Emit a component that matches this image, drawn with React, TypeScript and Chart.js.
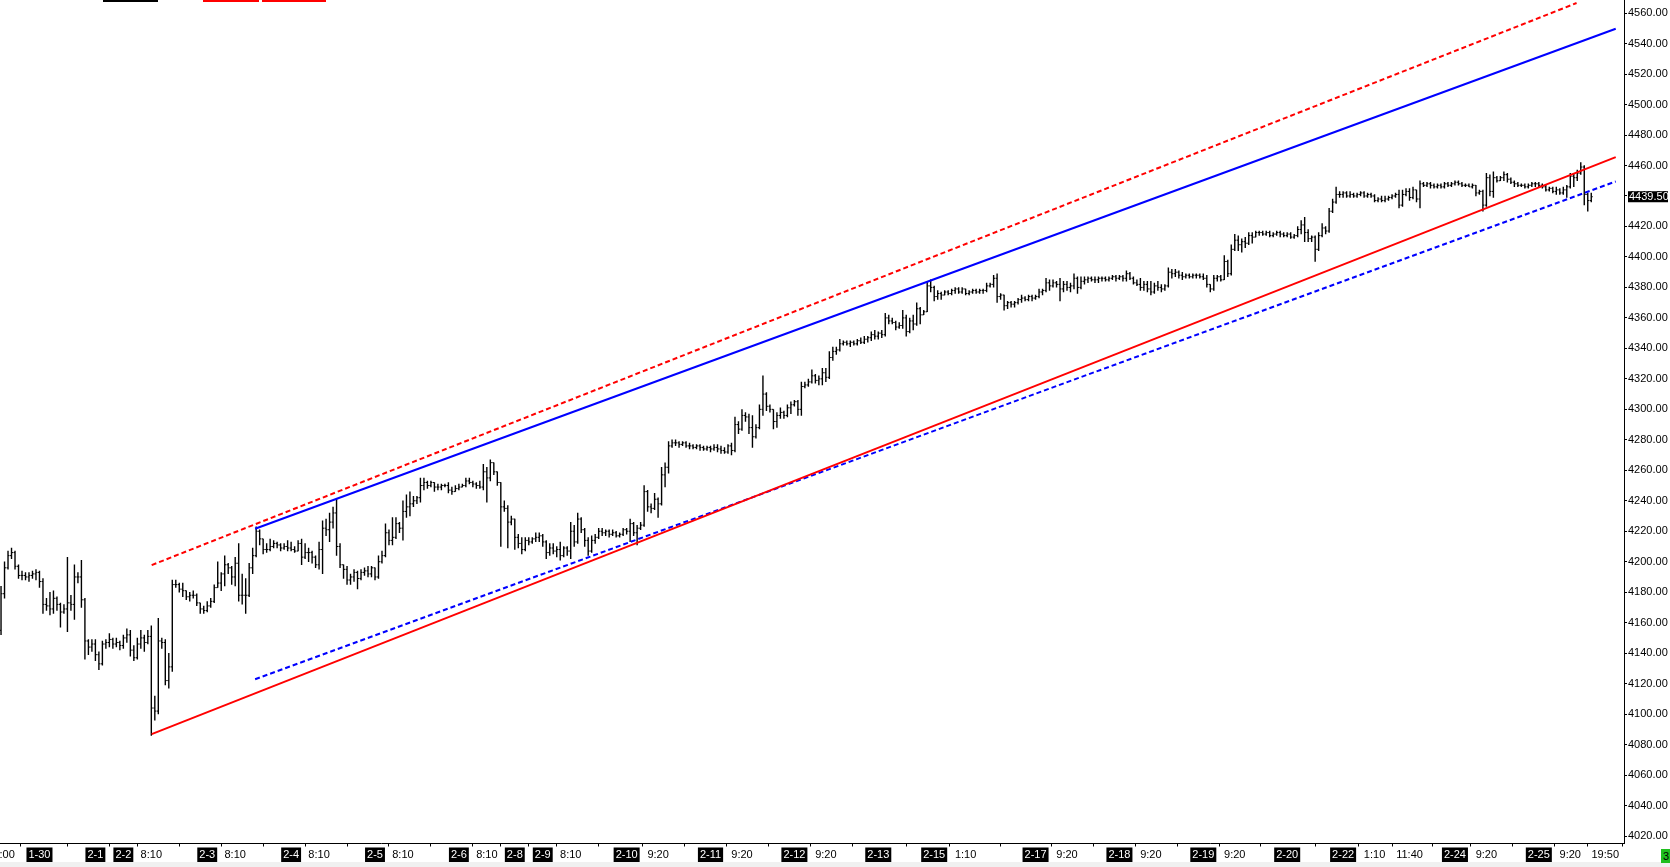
import { useEffect, useRef } from "react";
import { Chart, registerables } from "chart.js";

Chart.register(...registerables);

// hourly OHLC bars, index 0 = first visible bar
const opens = [
  4155, 4179, 4196, 4204, 4206, 4197, 4191, 4191, 4190, 4191,
  4192, 4193, 4187, 4172, 4171, 4169, 4176, 4172, 4167, 4169,
  4173, 4172, 4190, 4190, 4175, 4148, 4144, 4146, 4139, 4133,
  4146, 4147, 4149, 4146, 4147, 4145, 4150, 4152, 4142, 4137,
  4146, 4150, 4147, 4151, 4104, 4102, 4148, 4147, 4122, 4131,
  4185, 4185, 4182, 4181, 4177, 4178, 4178, 4173, 4169, 4168,
  4171, 4174, 4183, 4186, 4192, 4198, 4196, 4190, 4199, 4178,
  4178, 4178, 4196, 4204, 4220, 4215, 4208, 4208, 4210, 4212,
  4211, 4209, 4210, 4209, 4208, 4207, 4212, 4203, 4206, 4206,
  4203, 4198, 4208, 4222, 4221, 4226, 4232, 4210, 4198, 4195,
  4188, 4190, 4193, 4189, 4193, 4194, 4192, 4196, 4190, 4200,
  4204, 4219, 4214, 4216, 4225, 4222, 4233, 4236, 4238, 4240,
  4242, 4250, 4252, 4250, 4252, 4249, 4249, 4250, 4250, 4247,
  4246, 4248, 4249, 4250, 4253, 4252, 4251, 4250, 4249, 4259,
  4255, 4265, 4259, 4252, 4236, 4235, 4226, 4228, 4216, 4212,
  4208, 4214, 4213, 4215, 4216, 4217, 4213, 4206, 4209, 4207,
  4208, 4204, 4209, 4207, 4220, 4213, 4228, 4221, 4214, 4207,
  4214, 4216, 4220, 4219, 4220, 4218, 4219, 4217, 4218, 4221,
  4220, 4225, 4219, 4222, 4224, 4246, 4236, 4235, 4241, 4238,
  4257, 4262, 4276, 4278, 4278, 4277, 4278, 4276, 4276, 4275,
  4276, 4275, 4274, 4275, 4274, 4275, 4274, 4273, 4272, 4276,
  4273, 4290, 4287, 4296, 4295, 4288, 4282, 4288, 4300, 4310,
  4302, 4300, 4292, 4296, 4298, 4296, 4301, 4303, 4305, 4300,
  4315, 4316, 4318, 4322, 4319, 4320, 4324, 4321, 4334, 4338,
  4339, 4343, 4344, 4343, 4344, 4343, 4345, 4344, 4346, 4347,
  4349, 4348, 4350, 4349, 4360, 4358, 4357, 4354, 4355, 4360,
  4351, 4358, 4356, 4366, 4362, 4364, 4381, 4380, 4374, 4376,
  4375, 4377, 4376, 4378, 4379, 4377, 4379, 4376, 4377, 4378,
  4377, 4378, 4378, 4381, 4382, 4386, 4374, 4375, 4368, 4370,
  4369, 4370, 4372, 4373, 4372, 4374, 4373, 4374, 4377, 4378,
  4383, 4381, 4383, 4382, 4379, 4382, 4380, 4381, 4386, 4380,
  4384, 4385, 4386, 4385, 4385, 4386, 4386, 4385, 4386, 4387, 4386,
  4387, 4386, 4389, 4386, 4383, 4382, 4380, 4382, 4379, 4377,
  4381, 4380, 4379, 4381, 4390, 4389, 4390, 4388, 4387, 4388,
  4387, 4388, 4388, 4387, 4386, 4382, 4379, 4386, 4387, 4385,
  4397, 4389, 4405, 4411, 4408, 4410, 4409, 4414, 4413, 4416,
  4416, 4415, 4416, 4414, 4415, 4416, 4415, 4414, 4415, 4413,
  4414, 4418, 4421, 4416, 4412, 4413, 4405, 4414, 4419, 4417,
  4430, 4436, 4441, 4441, 4442, 4440, 4441, 4440, 4441, 4442,
  4440, 4441, 4440, 4437, 4438, 4437, 4438, 4439, 4440, 4441,
  4434, 4441, 4443, 4439, 4444, 4438, 4448, 4447, 4448, 4447,
  4446, 4447, 4446, 4448, 4447, 4448, 4449, 4448, 4447, 4447,
  4446, 4447, 4442, 4443, 4434, 4452, 4443, 4452, 4450, 4452,
  4454, 4451, 4449, 4448, 4447, 4447, 4446, 4447, 4448, 4448,
  4447, 4446, 4444, 4445, 4443, 4444, 4442, 4444, 4446, 4453,
  4452, 4455, 4459, 4441, 4437,
];

const highs = [
  4184, 4200, 4207, 4209, 4207, 4198, 4194, 4193, 4193, 4194,
  4195, 4194, 4189, 4176, 4180, 4181, 4177, 4173, 4172, 4203,
  4178, 4198, 4193, 4201, 4176, 4149, 4149, 4149, 4141, 4148,
  4149, 4153, 4150, 4150, 4148, 4152, 4156, 4155, 4145, 4150,
  4155, 4152, 4155, 4158, 4112, 4163, 4150, 4149, 4140, 4188,
  4188, 4186, 4186, 4181, 4180, 4181, 4179, 4173, 4171, 4174,
  4176, 4185, 4200, 4193, 4204, 4199, 4197, 4203, 4212, 4192,
  4189, 4199, 4209, 4223, 4221, 4215, 4212, 4215, 4214, 4213,
  4212, 4212, 4214, 4213, 4210, 4214, 4215, 4212, 4209, 4207,
  4204, 4213, 4227, 4228, 4232, 4236, 4241, 4212, 4198, 4197,
  4192, 4195, 4194, 4195, 4196, 4197, 4197, 4196, 4204, 4207,
  4225, 4221, 4229, 4229, 4226, 4240, 4244, 4246, 4243, 4243,
  4255, 4255, 4253, 4253, 4252, 4251, 4251, 4251, 4252, 4249,
  4250, 4251, 4251, 4255, 4255, 4253, 4252, 4253, 4264, 4262,
  4267, 4265, 4259, 4252, 4240, 4237, 4230, 4228, 4218, 4216,
  4216, 4216, 4216, 4219, 4219, 4218, 4214, 4212, 4212, 4210,
  4213, 4210, 4210, 4226, 4224, 4232, 4229, 4222, 4216, 4217,
  4218, 4222, 4222, 4221, 4221, 4221, 4220, 4219, 4222, 4222,
  4228, 4226, 4224, 4226, 4250, 4247, 4238, 4245, 4242, 4262,
  4265, 4279, 4280, 4280, 4279, 4279, 4279, 4278, 4277, 4277,
  4277, 4276, 4276, 4276, 4277, 4277, 4276, 4275, 4277, 4278,
  4295, 4292, 4300, 4298, 4297, 4296, 4290, 4303, 4322, 4311,
  4303, 4300, 4298, 4301, 4299, 4303, 4305, 4306, 4306, 4318,
  4318, 4320, 4326, 4323, 4322, 4327, 4327, 4338, 4341, 4341,
  4346, 4345, 4345, 4345, 4345, 4346, 4347, 4348, 4348, 4351,
  4352, 4351, 4352, 4363, 4362, 4360, 4358, 4357, 4365, 4362,
  4360, 4362, 4370, 4367, 4365, 4384, 4385, 4381, 4378, 4377,
  4378, 4378, 4379, 4380, 4380, 4380, 4379, 4378, 4379, 4379,
  4379, 4379, 4383, 4383, 4388, 4389, 4376, 4375, 4371, 4371,
  4371, 4373, 4375, 4374, 4375, 4375, 4375, 4379, 4379, 4386,
  4385, 4385, 4384, 4386, 4384, 4384, 4383, 4389, 4387, 4387,
  4387, 4387, 4387, 4387, 4387, 4387, 4387, 4387, 4388, 4388, 4388,
  4388, 4391, 4390, 4387, 4385, 4386, 4384, 4384, 4384, 4383,
  4384, 4382, 4382, 4393, 4392, 4392, 4391, 4390, 4389, 4389,
  4389, 4389, 4389, 4389, 4388, 4382, 4388, 4388, 4388, 4401,
  4398, 4408, 4415, 4414, 4412, 4413, 4416, 4416, 4417, 4417,
  4417, 4417, 4417, 4416, 4417, 4417, 4416, 4416, 4416, 4415,
  4420, 4424, 4426, 4418, 4414, 4414, 4416, 4422, 4420, 4432,
  4438, 4446, 4443, 4443, 4443, 4443, 4442, 4442, 4443, 4443,
  4442, 4442, 4441, 4439, 4440, 4440, 4440, 4441, 4442, 4444,
  4444, 4445, 4445, 4446, 4444, 4450, 4449, 4449, 4449, 4448,
  4448, 4448, 4449, 4449, 4449, 4450, 4450, 4449, 4448, 4448,
  4448, 4447, 4444, 4444, 4455, 4454, 4456, 4453, 4453, 4456,
  4455, 4452, 4450, 4449, 4448, 4448, 4448, 4449, 4449, 4449,
  4448, 4447, 4446, 4446, 4446, 4445, 4446, 4447, 4455, 4455,
  4457, 4462, 4460, 4442, 4442,
];

const lows = [
  4152, 4176, 4195, 4202, 4195, 4189, 4188, 4188, 4187, 4189,
  4188, 4183, 4166, 4168, 4165, 4166, 4168, 4157, 4166, 4154,
  4168, 4162, 4186, 4170, 4136, 4139, 4141, 4135, 4129, 4132,
  4143, 4144, 4143, 4144, 4142, 4143, 4147, 4138, 4135, 4136,
  4143, 4141, 4146, 4086, 4096, 4100, 4143, 4119, 4117, 4128,
  4183, 4180, 4177, 4175, 4174, 4176, 4171, 4166, 4166, 4167,
  4170, 4173, 4183, 4181, 4184, 4192, 4185, 4184, 4174, 4172,
  4166, 4177, 4192, 4203, 4211, 4205, 4206, 4207, 4209, 4209,
  4207, 4208, 4207, 4207, 4206, 4207, 4198, 4202, 4200, 4199,
  4196, 4195, 4192, 4217, 4213, 4222, 4204, 4196, 4189, 4185,
  4185, 4187, 4182, 4188, 4191, 4190, 4190, 4188, 4189, 4199,
  4203, 4211, 4211, 4215, 4219, 4214, 4229, 4230, 4236, 4238,
  4239, 4247, 4248, 4249, 4246, 4247, 4247, 4249, 4245, 4244,
  4246, 4247, 4249, 4249, 4251, 4249, 4248, 4248, 4247, 4239,
  4253, 4257, 4250, 4210, 4233, 4209, 4224, 4208, 4209, 4205,
  4207, 4211, 4212, 4213, 4213, 4210, 4202, 4204, 4205, 4203,
  4201, 4203, 4204, 4202, 4210, 4212, 4219, 4210, 4204, 4206,
  4212, 4215, 4217, 4217, 4216, 4217, 4216, 4216, 4217, 4218,
  4213, 4217, 4211, 4221, 4223, 4233, 4232, 4234, 4229, 4237,
  4249, 4258, 4275, 4276, 4275, 4276, 4275, 4274, 4274, 4274,
  4273, 4273, 4273, 4272, 4273, 4272, 4271, 4271, 4271, 4270,
  4272, 4284, 4286, 4292, 4284, 4275, 4281, 4287, 4296, 4299,
  4298, 4287, 4288, 4294, 4294, 4295, 4297, 4302, 4296, 4296,
  4314, 4315, 4317, 4317, 4316, 4316, 4318, 4320, 4332, 4336,
  4338, 4342, 4342, 4341, 4342, 4342, 4343, 4343, 4344, 4345,
  4346, 4346, 4347, 4348, 4356, 4356, 4352, 4353, 4353, 4348,
  4350, 4352, 4355, 4356, 4362, 4364, 4377, 4371, 4372, 4372,
  4375, 4375, 4375, 4376, 4376, 4376, 4375, 4375, 4376, 4376,
  4376, 4376, 4377, 4380, 4380, 4370, 4372, 4365, 4366, 4367,
  4367, 4369, 4370, 4371, 4371, 4371, 4372, 4373, 4375, 4377,
  4378, 4380, 4380, 4371, 4377, 4378, 4377, 4379, 4376, 4379,
  4382, 4383, 4384, 4383, 4383, 4384, 4384, 4384, 4385, 4384, 4385,
  4384, 4384, 4385, 4382, 4381, 4378, 4378, 4377, 4375, 4376,
  4378, 4377, 4378, 4380, 4386, 4387, 4386, 4385, 4386, 4386,
  4386, 4386, 4386, 4385, 4380, 4377, 4378, 4384, 4384, 4385,
  4387, 4388, 4404, 4404, 4403, 4406, 4408, 4409, 4413, 4414,
  4414, 4414, 4413, 4413, 4414, 4413, 4413, 4413, 4412, 4412,
  4413, 4415, 4410, 4410, 4410, 4397, 4404, 4413, 4415, 4416,
  4429, 4435, 4439, 4439, 4439, 4439, 4439, 4439, 4440, 4439,
  4439, 4439, 4436, 4436, 4436, 4436, 4437, 4438, 4439, 4432,
  4433, 4440, 4437, 4438, 4436, 4432, 4446, 4446, 4445, 4445,
  4445, 4445, 4445, 4446, 4446, 4447, 4447, 4446, 4446, 4446,
  4445, 4440, 4441, 4430, 4433, 4440, 4439, 4449, 4450, 4450,
  4449, 4448, 4446, 4446, 4446, 4445, 4445, 4446, 4446, 4446,
  4445, 4443, 4443, 4442, 4441, 4441, 4441, 4439, 4445, 4446,
  4450, 4454, 4434, 4430, 4436,
];

const closes = [
  4179, 4196, 4204, 4206, 4197, 4191, 4191, 4190, 4191, 4192,
  4193, 4187, 4172, 4171, 4169, 4176, 4172, 4167, 4169, 4173,
  4172, 4190, 4190, 4175, 4148, 4144, 4146, 4139, 4133, 4146,
  4147, 4149, 4146, 4147, 4145, 4150, 4152, 4142, 4137, 4146,
  4150, 4147, 4151, 4104, 4102, 4148, 4147, 4122, 4131, 4185,
  4185, 4182, 4181, 4177, 4178, 4178, 4173, 4169, 4168, 4171,
  4174, 4183, 4186, 4192, 4198, 4196, 4190, 4199, 4178, 4178,
  4178, 4196, 4204, 4220, 4215, 4208, 4208, 4210, 4212, 4211,
  4209, 4210, 4209, 4208, 4207, 4212, 4203, 4206, 4206, 4203,
  4198, 4208, 4222, 4221, 4226, 4232, 4210, 4198, 4195, 4188,
  4190, 4193, 4189, 4193, 4194, 4192, 4196, 4190, 4200, 4204,
  4219, 4214, 4216, 4225, 4222, 4233, 4236, 4238, 4240, 4242,
  4250, 4252, 4250, 4252, 4249, 4249, 4250, 4250, 4247, 4246,
  4248, 4249, 4250, 4253, 4252, 4251, 4250, 4249, 4259, 4255,
  4265, 4259, 4252, 4236, 4235, 4226, 4228, 4216, 4212, 4208,
  4214, 4213, 4215, 4216, 4217, 4213, 4206, 4209, 4207, 4208,
  4204, 4209, 4207, 4220, 4213, 4228, 4221, 4214, 4207, 4214,
  4216, 4220, 4219, 4220, 4218, 4219, 4217, 4218, 4221, 4220,
  4225, 4219, 4222, 4224, 4246, 4236, 4235, 4241, 4238, 4257,
  4262, 4276, 4278, 4278, 4277, 4278, 4276, 4276, 4275, 4276,
  4275, 4274, 4275, 4274, 4275, 4274, 4273, 4272, 4276, 4273,
  4290, 4287, 4296, 4295, 4288, 4282, 4288, 4300, 4310, 4302,
  4300, 4292, 4296, 4298, 4296, 4301, 4303, 4305, 4300, 4315,
  4316, 4318, 4322, 4319, 4320, 4324, 4321, 4334, 4338, 4339,
  4343, 4344, 4343, 4344, 4343, 4345, 4344, 4346, 4347, 4349,
  4348, 4350, 4349, 4360, 4358, 4357, 4354, 4355, 4360, 4351,
  4358, 4356, 4366, 4362, 4364, 4381, 4380, 4374, 4376, 4375,
  4377, 4376, 4378, 4379, 4377, 4379, 4376, 4377, 4378, 4377,
  4378, 4378, 4381, 4382, 4386, 4374, 4375, 4368, 4370, 4369,
  4370, 4372, 4373, 4372, 4374, 4373, 4374, 4377, 4378, 4383,
  4381, 4383, 4382, 4379, 4382, 4380, 4381, 4386, 4380, 4384,
  4385, 4386, 4385, 4385, 4386, 4386, 4385, 4386, 4387, 4386, 4387,
  4386, 4389, 4386, 4383, 4382, 4380, 4382, 4379, 4377, 4381,
  4380, 4379, 4381, 4390, 4389, 4390, 4388, 4387, 4388, 4387,
  4388, 4388, 4387, 4386, 4382, 4379, 4386, 4387, 4385, 4397,
  4389, 4405, 4411, 4408, 4410, 4409, 4414, 4413, 4416, 4416,
  4415, 4416, 4414, 4415, 4416, 4415, 4414, 4415, 4413, 4414,
  4418, 4421, 4416, 4412, 4413, 4405, 4414, 4419, 4417, 4430,
  4436, 4441, 4441, 4442, 4440, 4441, 4440, 4441, 4442, 4440,
  4441, 4440, 4437, 4438, 4437, 4438, 4439, 4440, 4441, 4434,
  4441, 4443, 4439, 4444, 4438, 4448, 4447, 4448, 4447, 4446,
  4447, 4446, 4448, 4447, 4448, 4449, 4448, 4447, 4447, 4446,
  4447, 4442, 4443, 4434, 4452, 4443, 4452, 4450, 4452, 4454,
  4451, 4449, 4448, 4447, 4447, 4446, 4447, 4448, 4448, 4447,
  4446, 4444, 4445, 4443, 4444, 4442, 4444, 4446, 4453, 4452,
  4455, 4459, 4441, 4437, 4439.5,
];

// time axis labels, placed at bar index
const xTickIdx = [
  0, 11, 27, 35, 43, 59, 67, 83, 91, 107, 115, 131, 139, 147, 155, 163,
  179, 188, 203, 212, 227, 236, 251, 267, 276, 296, 305, 320, 329, 344,
  353, 368, 384, 393, 403, 416, 425, 440, 449, 459,
];
const xTickText = [
  "20:00", "1-30", "2-1", "2-2", "8:10", "2-3", "8:10", "2-4", "8:10", "2-5", "8:10", "2-6", "8:10", "2-8", "2-9", "8:10",
  "2-10", "9:20", "2-11", "9:20", "2-12", "9:20", "2-13", "2-15", "1:10", "2-17", "9:20", "2-18", "9:20", "2-19",
  "9:20", "2-20", "2-22", "1:10", "11:40", "2-24", "9:20", "2-25", "9:20", "19:50",
];

const yTicks = [
  4020, 4040, 4060, 4080, 4100, 4120, 4140, 4160, 4180, 4200, 4220, 4240, 4260, 4280,
  4300, 4320, 4340, 4360, 4380, 4400, 4420, 4440, 4460, 4480, 4500, 4520, 4540, 4560,
];

// channel lines [bar index, price]
const redSolid = [[43.1, 4086.9], [462, 4465.5]];
const redDash = [[43.1, 4197.8], [450.8, 4566.6]];
const blueSolid = [[72.7, 4221.6], [462, 4549.7]];
const blueDash = [[72.7, 4122.9], [462, 4449.5]];

const FONT = "'Liberation Sans', Arial, sans-serif";
const lastPrice = closes[closes.length - 1];

const isDate = (i: number) => (xTickText[i] || "").includes("-");
const toPts = (line: number[][]) => line.map(([x, y]) => ({ x, y }));

const lastPricePlugin = {
  id: "lastPrice",
  afterDraw(chart: any) {
    const { ctx, chartArea } = chart;
    const y = chart.scales.y.getPixelForValue(lastPrice);
    const x = chartArea.right + 4;
    ctx.save();
    ctx.fillStyle = "#000";
    ctx.fillRect(x, y - 5.5, 40, 11);
    ctx.fillStyle = "#fff";
    ctx.font = `11px ${FONT}`;
    ctx.textBaseline = "middle";
    ctx.fillText(lastPrice.toFixed(2), x + 1, y + 0.5);
    ctx.restore();
  },
};

export default function App() {
  const canvasRef = useRef<HTMLCanvasElement>(null);
  const chartRef = useRef<Chart | null>(null);

  useEffect(() => {
    if (!canvasRef.current) return;
    if (chartRef.current) chartRef.current.destroy();

    const lineSet = (pts: number[][], color: string, dash: number[]) => ({
      type: "line" as const,
      data: toPts(pts),
      borderColor: color,
      borderWidth: 2,
      borderDash: dash,
      pointRadius: 0,
      fill: false,
    });

    chartRef.current = new Chart(canvasRef.current, {
      type: "bar",
      data: {
        datasets: [
          lineSet(redSolid, "#ff0000", []),
          lineSet(blueSolid, "#0000ff", []),
          lineSet(redDash, "#ff0000", [5, 3]),
          lineSet(blueDash, "#0000ff", [5, 3]),
          {
            type: "line",
            data: opens.map((v, i) => ({ x: i, y: v })),
            showLine: false,
            pointStyle: "dash",
            pointRotation: 180,
            pointRadius: 1.5,
            pointBorderWidth: 1,
            pointBorderColor: "#000",
          },
          {
            type: "line",
            data: closes.map((v, i) => ({ x: i, y: v })),
            showLine: false,
            pointStyle: "dash",
            pointRotation: 0,
            pointRadius: 1.5,
            pointBorderWidth: 1,
            pointBorderColor: "#000",
          },
          {
            type: "bar",
            data: closes.map((_, i) => ({ x: i, y: [lows[i], highs[i]] })),
            backgroundColor: "#000",
            borderWidth: 0,
            barThickness: 1,
            inflateAmount: 0.2,
          },
        ] as any,
      },
      options: {
        responsive: false,
        animation: false,
        devicePixelRatio: 1,
        events: [],
        layout: { autoPadding: false, padding: { left: 7.83, top: 0, right: 0, bottom: 0 } },
        plugins: { legend: { display: false }, tooltip: { enabled: false } },
        scales: {
          x: {
            type: "linear",
            min: -9.5,
            max: 464.37,
            offset: false,
            grid: { drawOnChartArea: false, tickLength: 3, color: "#000" },
            border: { color: "#000", width: 1 },
            afterBuildTicks: (axis: any) => {
              axis.ticks = xTickIdx.map((v) => ({ value: v }));
            },
            afterFit: (axis: any) => {
              axis.height = 23.5;
              axis.paddingLeft = 0;
              axis.paddingRight = 0;
            },
            ticks: {
              autoSkip: false,
              maxRotation: 0,
              padding: 2,
              font: { family: FONT, size: 11 },
              callback: (_v: any, i: number) => xTickText[i],
              color: (c: any) => (isDate(c.index) ? "#fff" : "#000"),
              showLabelBackdrop: true,
              backdropColor: (c: any) => (isDate(c.index) ? "#000" : "rgba(0,0,0,0)"),
              backdropPadding: { x: 2, y: 1 },
            },
          },
          y: {
            type: "linear",
            position: "right",
            min: 4015.1,
            max: 4568.6,
            grid: { drawOnChartArea: false, tickLength: 3, color: "#000" },
            border: { color: "#000", width: 1 },
            afterBuildTicks: (axis: any) => {
              axis.ticks = yTicks.map((v) => ({ value: v }));
            },
            afterFit: (axis: any) => {
              axis.width = 46;
              axis.paddingTop = 0;
              axis.paddingBottom = 0;
            },
            ticks: {
              padding: 1,
              color: "#000",
              font: { family: FONT, size: 11 },
              callback: (v: any) => Number(v).toFixed(2),
            },
          },
        },
      },
      plugins: [lastPricePlugin],
    });

    return () => {
      if (chartRef.current) {
        chartRef.current.destroy();
        chartRef.current = null;
      }
    };
  }, []);

  return (
    <div style={{ position: "fixed", left: 0, top: 0, width: 1670, height: 867, overflow: "hidden", background: "#fff" }}>
      <canvas
        ref={canvasRef}
        width={1710}
        height={867}
        style={{ position: "absolute", left: -40, top: 0, width: 1710, height: 867 }}
      />
      <div style={{ position: "absolute", left: 103, top: 0, width: 55, height: 2, background: "#000" }} />
      <div style={{ position: "absolute", left: 203, top: 0, width: 56, height: 2, background: "#ff0000" }} />
      <div style={{ position: "absolute", left: 262, top: 0, width: 64, height: 2, background: "#ff0000" }} />
      <div style={{ position: "absolute", left: 0, top: 862, width: 1670, height: 5, background: "#f0f0f0" }} />
      <div
        style={{
          position: "absolute", left: 1661, top: 849, width: 12, height: 14, background: "#1fbf1f",
          font: `11px ${FONT}`, lineHeight: "14px", paddingLeft: 2, color: "#000",
        }}
      >
        3
      </div>
    </div>
  );
}
